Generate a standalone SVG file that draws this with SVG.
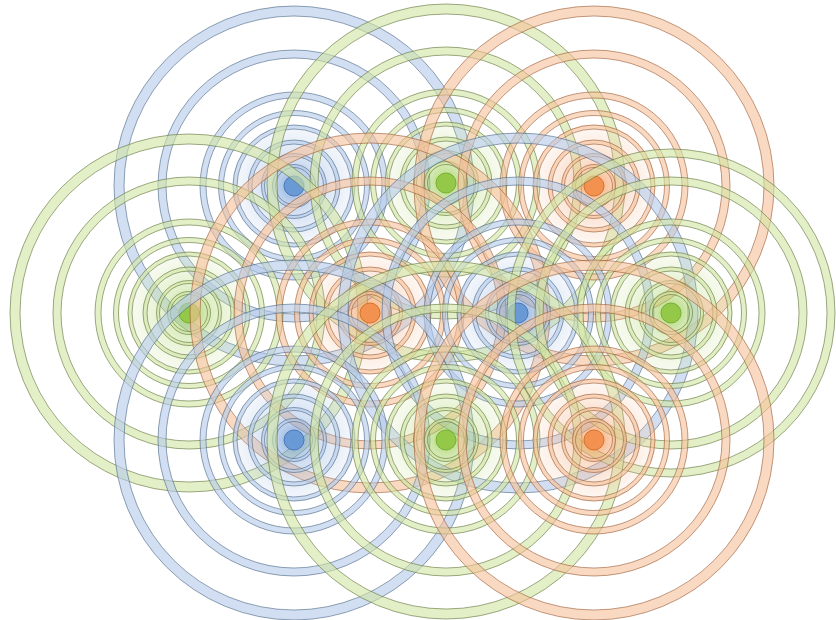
<svg xmlns="http://www.w3.org/2000/svg" width="836" height="620" viewBox="0 0 836 620">
<style>
.eb{fill:none;stroke:#4a6684;stroke-opacity:.6;stroke-width:1}
.eg{fill:none;stroke:#5f7238;stroke-opacity:.6;stroke-width:1}
.eo{fill:none;stroke:#9a5a34;stroke-opacity:.6;stroke-width:1}
.bb{fill:none;stroke:#b4caea;stroke-opacity:.6}
.bg{fill:none;stroke:#d0e5a2;stroke-opacity:.6}
.bo{fill:none;stroke:#f5bf98;stroke-opacity:.6}
</style>
<defs>
<radialGradient id="gB"><stop offset="0" stop-color="#5d8fd0" stop-opacity=".75"/><stop offset=".4" stop-color="#8fb0e0" stop-opacity=".4"/><stop offset="1" stop-color="#b9cdea" stop-opacity=".12"/></radialGradient>
<radialGradient id="gG"><stop offset="0" stop-color="#8cc43c" stop-opacity=".75"/><stop offset=".4" stop-color="#b5d978" stop-opacity=".4"/><stop offset="1" stop-color="#d3e6a8" stop-opacity=".12"/></radialGradient>
<radialGradient id="gO"><stop offset="0" stop-color="#f08a3c" stop-opacity=".75"/><stop offset=".4" stop-color="#f5ad80" stop-opacity=".4"/><stop offset="1" stop-color="#f8cdb0" stop-opacity=".12"/></radialGradient>
<g id="inner">
<circle r="136"/><circle r="128"/>
<circle r="94"/><circle r="88"/>
<circle r="75.5"/><circle r="70.5"/>
<circle r="61"/><circle r="57"/>
<circle r="46"/><circle r="42"/>
<circle r="32.5"/><circle r="29.5"/>
<circle r="21.5"/><circle r="18.5"/>
</g>
<g id="bands">
<circle r="132" stroke-width="8"/><circle r="91" stroke-width="6"/><circle r="73" stroke-width="5"/><circle r="59" stroke-width="4"/><circle r="44" stroke-width="4"/><circle r="31" stroke-width="3"/><circle r="20" stroke-width="3"/>
</g>
<g id="rB">
<circle r="62" fill="url(#gB)"/>
<g class="bb"><circle r="175" stroke-width="10"/><use href="#bands"/></g>
<g class="eb"><circle r="180"/><circle r="170"/><use href="#inner"/></g>
<circle r="10" fill="#6a9ad6" stroke="#4a78b8" stroke-width="1"/>
</g>
<g id="rG">
<circle r="62" fill="url(#gG)"/>
<g class="bg"><circle r="174" stroke-width="10"/><use href="#bands"/></g>
<g class="eg"><circle r="179"/><circle r="169"/><use href="#inner"/></g>
<circle r="10" fill="#94c848" stroke="#78b030" stroke-width="1"/>
</g>
<g id="rG2">
<circle r="62" fill="url(#gG)"/>
<g class="bg"><circle r="160" stroke-width="8"/><use href="#bands"/></g>
<g class="eg"><circle r="164"/><circle r="156"/><use href="#inner"/></g>
<circle r="10" fill="#94c848" stroke="#78b030" stroke-width="1"/>
</g>
<g id="rO">
<circle r="62" fill="url(#gO)"/>
<g class="bo"><circle r="175" stroke-width="10"/><use href="#bands"/></g>
<g class="eo"><circle r="180"/><circle r="170"/><use href="#inner"/></g>
<circle r="10" fill="#f39250" stroke="#d8702a" stroke-width="1"/>
</g>
</defs>
<rect width="836" height="620" fill="#ffffff"/>
<g id="node-blue-1"><use href="#rB" x="294" y="186"/></g>
<g id="node-green-1"><use href="#rG" x="446" y="183"/></g>
<g id="node-orange-1"><use href="#rO" x="594" y="186"/></g>
<g id="node-green-2"><use href="#rG" x="189" y="313"/></g>
<g id="node-orange-2"><use href="#rO" x="370" y="313"/></g>
<g id="node-blue-2"><use href="#rB" x="518" y="313"/></g>
<g id="node-green-3"><use href="#rG2" x="671" y="313"/></g>
<g id="node-blue-3"><use href="#rB" x="294" y="440"/></g>
<g id="node-green-4"><use href="#rG" x="446" y="440"/></g>
<g id="node-orange-3"><use href="#rO" x="594" y="440"/></g>
</svg>
